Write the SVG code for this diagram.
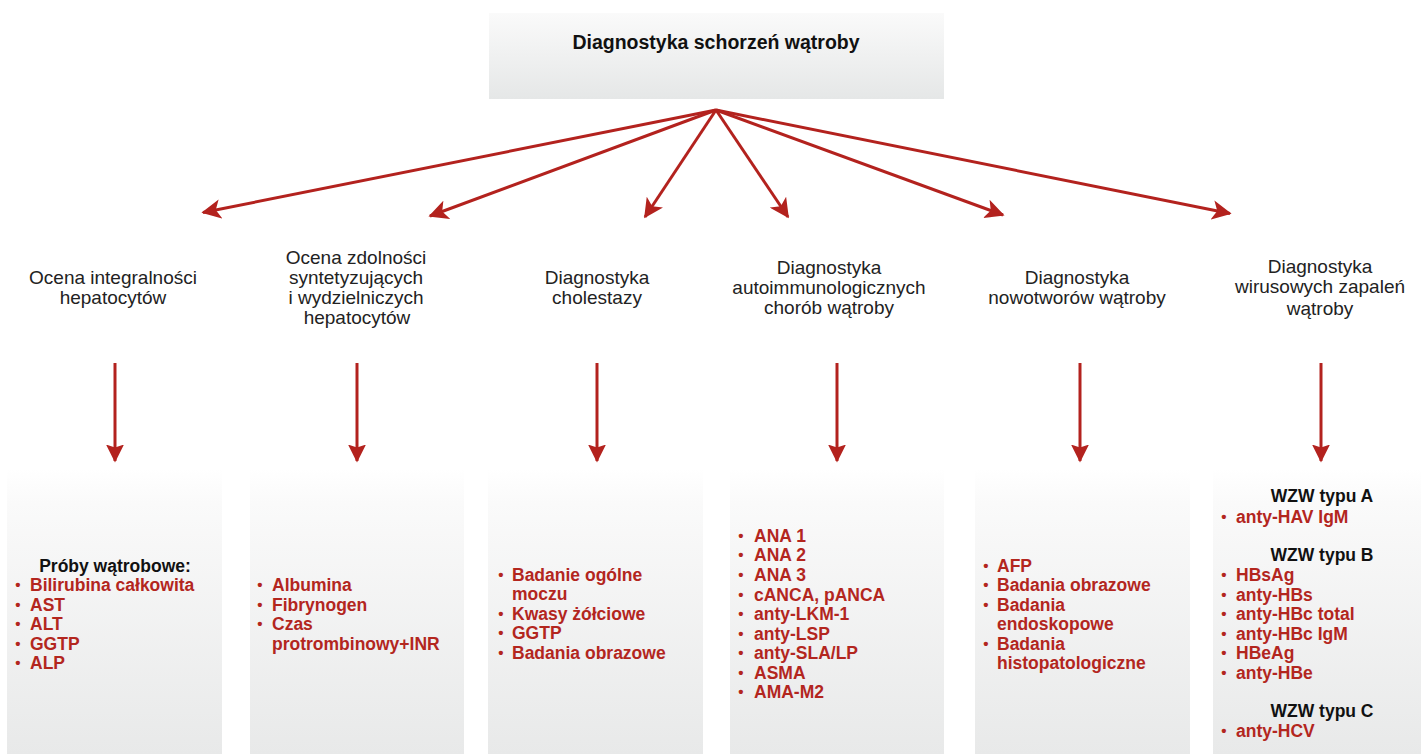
<svg xmlns="http://www.w3.org/2000/svg" width="1421" height="754" viewBox="0 0 1421 754">
<defs>
<linearGradient id="gTop" x1="0" y1="0" x2="0" y2="1">
<stop offset="0" stop-color="#fafafa"/>
<stop offset="1" stop-color="#e5e7e7"/>
</linearGradient>
<linearGradient id="gBox" x1="0" y1="0" x2="0" y2="1">
<stop offset="0" stop-color="#ffffff"/>
<stop offset="0.12" stop-color="#fafafa"/>
<stop offset="1" stop-color="#e8e9e9"/>
</linearGradient>
<marker id="ah" viewBox="0 0 12 12" refX="11" refY="6" markerWidth="6.5" markerHeight="6.5" orient="auto" markerUnits="strokeWidth">
<path d="M0,0 L12,6 L0,12 L3,6 z" fill="#b3221e"/>
</marker>
<marker id="av" viewBox="0 0 12 12" refX="11" refY="6" markerWidth="6" markerHeight="6" orient="auto" markerUnits="strokeWidth">
<path d="M0,0 L12,6 L0,12 L2,6 z" fill="#b3221e"/>
</marker>
</defs>
<style>
.lbl{font-family:"Liberation Sans",Arial,sans-serif;font-size:19px;fill:#222;text-anchor:middle}
.ttl{font-family:"Liberation Sans",Arial,sans-serif;font-size:19.5px;font-weight:bold;fill:#111;text-anchor:middle}
.hd{font-family:"Liberation Sans",Arial,sans-serif;font-size:17.5px;font-weight:bold;fill:#111;text-anchor:middle}
.it{font-family:"Liberation Sans",Arial,sans-serif;font-size:17.5px;font-weight:bold;fill:#b3261e}
.bu{font-family:"Liberation Sans",Arial,sans-serif;font-size:15px;font-weight:bold;fill:#b3261e;text-anchor:middle}
.con{stroke:#b3221e;stroke-width:3;fill:none}
.box{fill:url(#gBox)}
</style>

<g id="root">
<rect x="489" y="13" width="455" height="86" fill="url(#gTop)"/>
<text class="ttl" x="716" y="49">Diagnostyka schorzeń wątroby</text>
</g>

<g id="connectors">
<line class="con" x1="716" y1="110" x2="203" y2="212.5" marker-end="url(#ah)"/>
<line class="con" x1="716" y1="110" x2="430" y2="216" marker-end="url(#ah)"/>
<line class="con" x1="716" y1="110" x2="645" y2="217" marker-end="url(#ah)"/>
<line class="con" x1="716" y1="110" x2="788" y2="217" marker-end="url(#ah)"/>
<line class="con" x1="716" y1="110" x2="1003" y2="215" marker-end="url(#ah)"/>
<line class="con" x1="716" y1="110" x2="1230" y2="213.5" marker-end="url(#ah)"/>
<line class="con" x1="115" y1="363" x2="115" y2="461" marker-end="url(#av)"/>
<line class="con" x1="357" y1="363" x2="357" y2="461" marker-end="url(#av)"/>
<line class="con" x1="597" y1="363" x2="597" y2="461" marker-end="url(#av)"/>
<line class="con" x1="837" y1="363" x2="837" y2="461" marker-end="url(#av)"/>
<line class="con" x1="1080" y1="363" x2="1080" y2="461" marker-end="url(#av)"/>
<line class="con" x1="1321" y1="363" x2="1321" y2="461" marker-end="url(#av)"/>
</g>

<g id="label1">
<text class="lbl" x="113" y="284">Ocena integralności</text>
<text class="lbl" x="113" y="304">hepatocytów</text>
</g>
<g id="label2">
<text class="lbl" x="356" y="264">Ocena zdolności</text>
<text class="lbl" x="356" y="284">syntetyzujących</text>
<text class="lbl" x="356" y="304">i wydzielniczych</text>
<text class="lbl" x="357" y="324">hepatocytów</text>
</g>
<g id="label3">
<text class="lbl" x="597" y="284">Diagnostyka</text>
<text class="lbl" x="597" y="304">cholestazy</text>
</g>
<g id="label4">
<text class="lbl" x="829" y="274">Diagnostyka</text>
<text class="lbl" x="829" y="294">autoimmunologicznych</text>
<text class="lbl" x="829" y="314">chorób wątroby</text>
</g>
<g id="label5">
<text class="lbl" x="1077" y="284">Diagnostyka</text>
<text class="lbl" x="1077" y="304">nowotworów wątroby</text>
</g>
<g id="label6">
<text class="lbl" x="1320" y="273">Diagnostyka</text>
<text class="lbl" x="1320" y="293">wirusowych zapaleń</text>
<text class="lbl" x="1320" y="315">wątroby</text>
</g>

<g id="box1">
<rect class="box" x="7" y="469" width="215" height="285"/>
<text class="hd" x="115" y="572">Próby wątrobowe:</text>
<g class="bu"><text x="18" y="590">•</text><text x="18" y="610">•</text><text x="18" y="629">•</text><text x="18" y="649">•</text><text x="18" y="668">•</text></g>
<text class="it" x="30" y="591">Bilirubina całkowita</text>
<text class="it" x="30" y="611">AST</text>
<text class="it" x="30" y="630">ALT</text>
<text class="it" x="30" y="650">GGTP</text>
<text class="it" x="30" y="669">ALP</text>
</g>

<g id="box2">
<rect class="box" x="250" y="469" width="214" height="285"/>
<g class="bu"><text x="260" y="590">•</text><text x="260" y="610">•</text><text x="260" y="629">•</text></g>
<text class="it" x="272" y="591">Albumina</text>
<text class="it" x="272" y="611">Fibrynogen</text>
<text class="it" x="272" y="630">Czas</text>
<text class="it" x="272" y="650">protrombinowy+INR</text>
</g>

<g id="box3">
<rect class="box" x="488" y="469" width="215" height="285"/>
<g class="bu"><text x="501" y="580">•</text><text x="501" y="619">•</text><text x="501" y="638">•</text><text x="501" y="658">•</text></g>
<text class="it" x="512" y="581">Badanie ogólne</text>
<text class="it" x="512" y="600">moczu</text>
<text class="it" x="512" y="620">Kwasy żółciowe</text>
<text class="it" x="512" y="639">GGTP</text>
<text class="it" x="512" y="659">Badania obrazowe</text>
</g>

<g id="box4">
<rect class="box" x="730" y="469" width="214" height="285"/>
<g class="bu"><text x="741" y="541">•</text><text x="741" y="560">•</text><text x="741" y="580">•</text><text x="741" y="600">•</text><text x="741" y="619">•</text><text x="741" y="639">•</text><text x="741" y="658">•</text><text x="741" y="678">•</text><text x="741" y="697">•</text></g>
<text class="it" x="754" y="542">ANA 1</text>
<text class="it" x="754" y="561">ANA 2</text>
<text class="it" x="754" y="581">ANA 3</text>
<text class="it" x="754" y="601">cANCA, pANCA</text>
<text class="it" x="754" y="620">anty-LKM-1</text>
<text class="it" x="754" y="640">anty-LSP</text>
<text class="it" x="754" y="659">anty-SLA/LP</text>
<text class="it" x="754" y="679">ASMA</text>
<text class="it" x="754" y="698">AMA-M2</text>
</g>

<g id="box5">
<rect class="box" x="975" y="469" width="215" height="285"/>
<g class="bu"><text x="986" y="571">•</text><text x="986" y="590">•</text><text x="986" y="610">•</text><text x="986" y="649">•</text></g>
<text class="it" x="997" y="572">AFP</text>
<text class="it" x="997" y="591">Badania obrazowe</text>
<text class="it" x="997" y="611">Badania</text>
<text class="it" x="997" y="630">endoskopowe</text>
<text class="it" x="997" y="650">Badania</text>
<text class="it" x="997" y="669">histopatologiczne</text>
</g>

<g id="box6">
<rect class="box" x="1213" y="469" width="208" height="285"/>
<text class="hd" x="1322" y="502">WZW typu A</text>
<text class="hd" x="1322" y="561">WZW typu B</text>
<text class="hd" x="1322" y="717">WZW typu C</text>
<g class="bu"><text x="1224" y="522">•</text><text x="1224" y="580">•</text><text x="1224" y="600">•</text><text x="1224" y="619">•</text><text x="1224" y="639">•</text><text x="1224" y="658">•</text><text x="1224" y="678">•</text><text x="1224" y="736">•</text></g>
<text class="it" x="1236" y="523">anty-HAV IgM</text>
<text class="it" x="1236" y="581">HBsAg</text>
<text class="it" x="1236" y="601">anty-HBs</text>
<text class="it" x="1236" y="620">anty-HBc total</text>
<text class="it" x="1236" y="640">anty-HBc IgM</text>
<text class="it" x="1236" y="659">HBeAg</text>
<text class="it" x="1236" y="679">anty-HBe</text>
<text class="it" x="1236" y="737">anty-HCV</text>
</g>
</svg>
